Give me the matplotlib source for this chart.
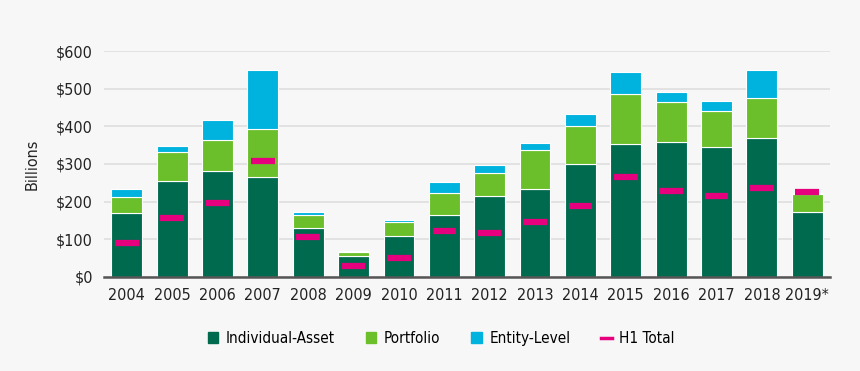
import matplotlib
matplotlib.use("Agg")
import matplotlib.pyplot as plt
import numpy as np
from matplotlib.patches import Patch
from matplotlib.lines import Line2D

years = ["2004", "2005", "2006", "2007", "2008", "2009", "2010", "2011",
         "2012", "2013", "2014", "2015", "2016", "2017", "2018", "2019*"]
individual = [170, 255, 281, 266, 129, 55, 108, 165, 215, 234, 300, 354, 359, 344, 369, 172]
portfolio = [41, 76, 82, 128, 36, 12, 38, 57, 60, 104, 100, 132, 105, 97, 106, 48]
entity = [22, 18, 53, 155, 7, 1, 6, 31, 22, 17, 32, 58, 27, 26, 75, 4]
h1_total = [91, 157, 195, 308, 106, 28, 51, 122, 116, 147, 189, 266, 229, 216, 236, 226]
yticks = [0, 100, 200, 300, 400, 500, 600]
ytick_labels = ["$0", "$100", "$200", "$300", "$400", "$500", "$600"]

c_ind = "#006a4e"
c_port = "#6abf2b"
c_ent = "#00b2de"
c_h1 = "#e6007e"
bg = "#f7f7f7"

plt.rcParams['font.family'] = ['DejaVu Sans']
plt.rcParams['font.stretch'] = 'condensed'

fig = plt.figure(figsize=(8.6, 3.71), dpi=100, facecolor=bg)
ax = fig.add_axes([0.121, 0.254, 0.844, 0.608], facecolor=bg)

x = np.arange(len(years))
w = 0.68
ind = np.array(individual)
port = np.array(portfolio)
ent = np.array(entity)
ax.bar(x, ind, w, color=c_ind, edgecolor="white", linewidth=0.8, zorder=3)
ax.bar(x, port, w, bottom=ind, color=c_port, edgecolor="white", linewidth=0.8, zorder=3)
ax.bar(x, ent, w, bottom=ind + port, color=c_ent, edgecolor="white", linewidth=0.8, zorder=3)
ax.hlines(h1_total, x - 0.26, x + 0.26, colors=c_h1, linewidth=4.5, zorder=4)

ax.set_xlim(-0.5, len(years) - 0.5)
ax.set_ylim(0, 600)
ax.set_yticks(yticks)
ax.set_yticklabels(ytick_labels, fontsize=11.5)
ax.set_xticks(x)
ax.set_xticklabels(years, fontsize=11.5)
ax.tick_params(axis="both", length=0, pad=8, colors="#222222")
ax.grid(axis="y", color="#dedede", linewidth=1.2, zorder=0)
for s in ["top", "right", "left"]:
    ax.spines[s].set_visible(False)
ax.spines["bottom"].set_color("#555555")
ax.spines["bottom"].set_linewidth(1.8)
ax.spines["bottom"].set_zorder(5)
ax.set_ylabel("Billions", fontsize=11.5, color="#222222", labelpad=12)

handles = [Patch(color=c_ind, label="Individual-Asset"),
           Patch(color=c_port, label="Portfolio"),
           Patch(color=c_ent, label="Entity-Level"),
           Line2D([0], [0], color=c_h1, linewidth=2.5, label="H1 Total")]
leg = fig.legend(handles=handles, loc="center", bbox_to_anchor=(0.513, 0.088), ncol=4,
                 frameon=False, fontsize=11, handlelength=0.7, handleheight=0.7,
                 columnspacing=2.0, handletextpad=0.5)

fig.savefig("out.png", dpi=100, facecolor=bg)
